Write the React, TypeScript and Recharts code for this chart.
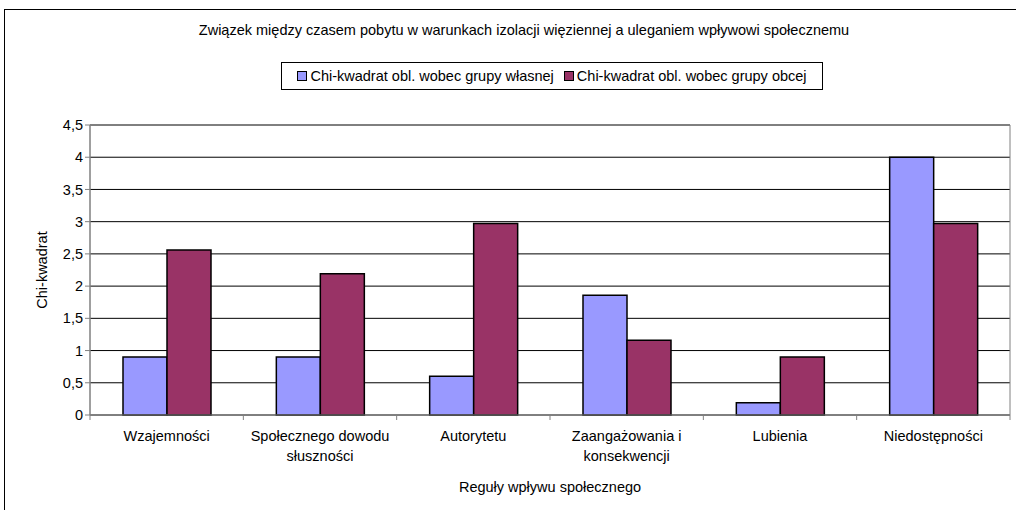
import { BarChart, Bar, XAxis, YAxis, CartesianGrid, Legend, ReferenceArea } from "recharts";

const categories = [
  "Wzajemności",
  "Społecznego dowodu\nsłuszności",
  "Autorytetu",
  "Zaangażowania i\nkonsekwencji",
  "Lubienia",
  "Niedostępności",
];
const wlasnej = [0.9, 0.9, 0.6, 1.86, 0.19, 4.0];
const obcej = [2.56, 2.19, 2.97, 1.16, 0.9, 2.97];
const yTicks = [0, 0.5, 1, 1.5, 2, 2.5, 3, 3.5, 4, 4.5];

const seriesNames = [
  "Chi-kwadrat obl. wobec grupy własnej",
  "Chi-kwadrat obl. wobec grupy obcej",
];
const colors = ["#9999FF", "#993366"];

const data = categories.map((c, i) => ({ name: c, wlasnej: wlasnej[i], obcej: obcej[i] }));

const FONT = "'Liberation Sans', Arial, sans-serif";
const FS = 14.5;
const BAND = 920 / categories.length;

function CategoryTick(props: any) {
  const { x, y, payload, index } = props;
  const lines = String(payload.value).split("\n");
  return (
    <g>
      <line x1={x - BAND / 2} y1={y - 8} x2={x - BAND / 2} y2={y - 3} stroke="#808080" />
      {index === categories.length - 1 && (
        <line x1={x + BAND / 2} y1={y - 8} x2={x + BAND / 2} y2={y - 3} stroke="#808080" />
      )}
      <text x={x} y={y + 18} textAnchor="middle" fontSize={FS} fill="#000" fontFamily={FONT}>
        {lines.map((l, i) => (
          <tspan key={i} x={x} dy={i === 0 ? 0 : 20}>
            {l}
          </tspan>
        ))}
      </text>
    </g>
  );
}

function LegendBox() {
  return (
    <div
      style={{
        border: "1px solid #000",
        height: 28,
        display: "flex",
        alignItems: "center",
        justifyContent: "center",
        gap: 10,
        fontFamily: FONT,
        fontSize: FS,
        background: "#fff",
        boxSizing: "border-box",
      }}
    >
      {seriesNames.map((n, i) => (
        <span key={n} style={{ display: "flex", alignItems: "center" }}>
          <span
            style={{
              display: "inline-block",
              width: 8,
              height: 8,
              background: colors[i],
              border: "1px solid #000",
              marginRight: 3,
            }}
          />
          {n}
        </span>
      ))}
    </div>
  );
}

export default function App() {
  return (
    <div style={{ position: "absolute", left: 0, top: 0, width: 1016, height: 510, overflow: "hidden", background: "#fff" }}>
      <div
        style={{
          position: "absolute",
          left: 4,
          top: 9,
          width: 1040,
          height: 540,
          border: "1px solid #000",
        }}
      />
      <div
        style={{
          position: "absolute",
          left: 124,
          top: 22,
          width: 800,
          textAlign: "center",
          fontFamily: FONT,
          fontSize: FS,
        }}
      >
        Związek między czasem pobytu w warunkach izolacji więziennej a uleganiem wpływowi społecznemu
      </div>
      <BarChart
        width={1016}
        height={510}
        data={data}
        margin={{ top: 125, right: 6, left: 30, bottom: 0 }}
        barCategoryGap={33}
        barGap={0}
        style={{ position: "absolute", left: 0, top: 0 }}
      >
        <CartesianGrid vertical={false} stroke="#000" />
        <XAxis
          dataKey="name"
          height={95}
          stroke="#808080"
          tickLine={false}
          interval={0}
          tick={<CategoryTick />}
          label={{ value: "Reguły wpływu społecznego", position: "insideBottom", offset: 18, fontSize: FS, fill: "#000", fontFamily: FONT }}
        />
        <YAxis
          width={60}
          domain={[0, 4.5]}
          ticks={yTicks}
          interval={0}
          stroke="#808080"
          tickSize={5}
          tick={{ fontSize: FS, fill: "#000", fontFamily: FONT }}
          tickFormatter={(v: number) => String(v).replace(".", ",")}
          label={{ value: "Chi-kwadrat", angle: -90, position: "insideLeft", offset: 12, fontSize: FS, fill: "#000", fontFamily: FONT, style: { textAnchor: "middle" } }}
        />
        <ReferenceArea y1={0} y2={4.5} fill="none" stroke="#808080" ifOverflow="visible" />
        <Legend
          verticalAlign="middle"
          wrapperStyle={{ top: 62, left: 281, width: 542, height: 28 }}
          content={() => <LegendBox />}
        />
        <Bar dataKey="wlasnej" name={seriesNames[0]} fill={colors[0]} stroke="#000" strokeWidth={1.5} isAnimationActive={false} />
        <Bar dataKey="obcej" name={seriesNames[1]} fill={colors[1]} stroke="#000" strokeWidth={1.5} isAnimationActive={false} />
      </BarChart>
    </div>
  );
}
